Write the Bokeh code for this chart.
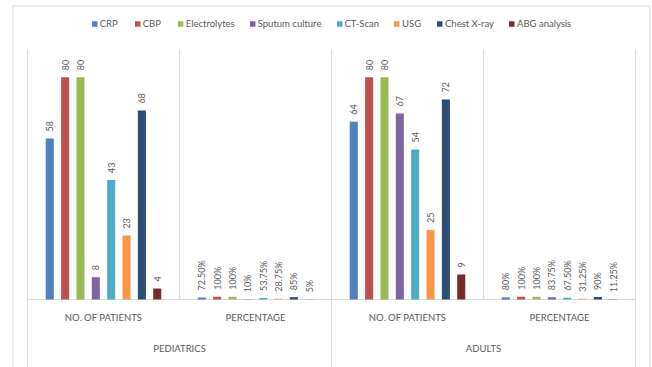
import math

from bokeh.core.properties import value
from bokeh.embed import file_html
from bokeh.models import ColumnDataSource, FactorRange, Legend, LegendItem, Range1d
from bokeh.plotting import figure
from bokeh.resources import INLINE
from bokeh.transform import dodge

# Category axis: two patient groups, each with counts and percentages
groups = ["PEDIATRICS", "ADULTS"]
measures = ["NO. OF PATIENTS", "PERCENTAGE"]

# Series (investigations)
tests = ["CRP", "CBP", "Electrolytes", "Sputum culture", "CT-Scan", "USG",
         "Chest X-ray", "ABG analysis"]
colors = ["#4F81BD", "#C0504D", "#9BBB59", "#8064A2", "#4BACC6", "#F79646",
          "#2C4D75", "#772C2A"]

pediatric_patients = [58, 80, 80, 8, 43, 23, 68, 4]
pediatric_share = [0.725, 1.00, 1.00, 0.10, 0.5375, 0.2875, 0.85, 0.05]
adult_patients = [64, 80, 80, 67, 54, 25, 72, 9]
adult_share = [0.80, 1.00, 1.00, 0.8375, 0.675, 0.3125, 0.90, 0.1125]

y_axis_max = 90

FONT = "Lato"
TEXT_GREY = "#595959"
RULE_GREY = "#d9d9d9"


def pct_text(frac):
    v = frac * 100
    return f"{v:.0f}%" if abs(v - round(v)) < 1e-9 else f"{v:.2f}%"


factors = [(g, m) for g in groups for m in measures]
pad = 15 / 152  # side padding of the category range, in category widths

x_range = FactorRange(*factors, factor_padding=0, group_padding=0,
                      range_padding=pad, range_padding_units="absolute")
y_range = Range1d(-24.48, 105.84)

p = figure(x_range=x_range, y_range=y_range,
           width=652, height=367, output_backend="svg", toolbar_location=None,
           min_border_left=12, min_border_right=2, min_border_top=5,
           min_border_bottom=0, y_axis_location=None)
p.outline_line_color = None
p.grid.visible = False
p.background_fill_color = "white"
p.border_fill_color = "white"

# Category axis sits on the zero line inside the frame
ax = p.xaxis[0]
ax.fixed_location = 0
ax.axis_line_color = None
ax.major_tick_line_color = None
ax.minor_tick_line_color = None
ax.major_tick_out = 0
ax.major_tick_in = 0
ax.major_label_orientation = "horizontal"
ax.major_label_standoff = 12
ax.major_label_text_font = FONT
ax.major_label_text_font_size = "9.5px"
ax.major_label_text_color = TEXT_GREY
ax.group_text_color = None
ax.separator_line_color = None

n = len(factors)

# Chart-area box (left, top, right); drawn on the frame edge so half shows
box = dict(line_color=RULE_GREY, line_width=2)
p.segment(x0=[-pad, n + pad], y0=[y_range.start] * 2, x1=[-pad, n + pad],
          y1=[y_range.end] * 2, **box)
p.segment(x0=[-pad], y0=[y_range.end], x1=[n + pad], y1=[y_range.end], **box)

# Category dividers and the baseline
outer = list(range(0, n + 1, len(measures)))
inner = [b for b in range(n + 1) if b not in outer]
p.segment(x0=outer, y0=[y_range.start] * len(outer), x1=outer,
          y1=[y_axis_max] * len(outer), line_color=RULE_GREY, line_width=1)
p.segment(x0=inner, y0=[0] * len(inner), x1=inner, y1=[y_axis_max] * len(inner),
          line_color=RULE_GREY, line_width=1)
p.segment(x0=[0], y0=[0], x1=[n], y1=[0], line_color=RULE_GREY, line_width=1)

# Group labels, second row under the category axis
p.text(x=groups, y=[0] * len(groups), text=groups, y_offset=49,
       text_align="center", text_baseline="middle", text_font=value(FONT),
       text_font_size="9.5px", text_color=TEXT_GREY)

slot = 0.101
bar_width = 0.053
renderers = []
for j, (name, col) in enumerate(zip(tests, colors)):
    vals = [pediatric_patients[j], pediatric_share[j], adult_patients[j], adult_share[j]]
    labels = [str(pediatric_patients[j]), pct_text(pediatric_share[j]),
              str(adult_patients[j]), pct_text(adult_share[j])]
    src = ColumnDataSource(dict(x=factors, top=vals, label=labels))
    off = (j - (len(tests) - 1) / 2) * slot
    r = p.vbar(x=dodge("x", off, range=p.x_range), top="top", width=bar_width,
               source=src, fill_color=col, line_color=None)
    p.text(x=dodge("x", off, range=p.x_range), y="top", text="label", source=src,
           angle=math.pi / 2, text_align="left", text_baseline="middle",
           y_offset=-7, text_font=value(FONT), text_font_size="9px",
           text_color=TEXT_GREY)
    renderers.append(r)

legend = Legend(items=[LegendItem(label=nm, renderers=[r]) for nm, r in zip(tests, renderers)],
                location="top_center", orientation="horizontal",
                glyph_width=7, glyph_height=7, label_standoff=2, spacing=14,
                padding=0, margin=12, label_height=12,
                label_text_font=FONT, label_text_font_size="9.5px",
                label_text_color=TEXT_GREY,
                border_line_color=None, background_fill_alpha=0)
p.add_layout(legend)

open("out.html", "w").write(file_html(p, INLINE))
